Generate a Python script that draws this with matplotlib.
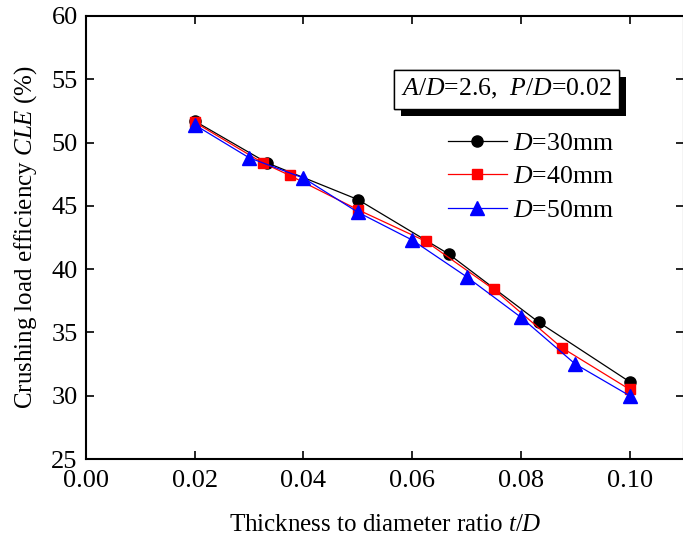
import matplotlib.pyplot as plt
import matplotlib.patheffects as pe

plt.rcParams['font.family'] = ['Liberation Serif', 'DejaVu Serif']
plt.rcParams['mathtext.fontset'] = 'custom'
plt.rcParams['mathtext.rm'] = 'Liberation Serif'
plt.rcParams['mathtext.it'] = 'Liberation Serif:italic'

# data
x30 = [0.02, 0.0333, 0.05, 0.0667, 0.0833, 0.10]
y30 = [51.7, 48.4, 45.5, 41.2, 35.8, 31.1]

x40 = [0.02, 0.0325, 0.0375, 0.05, 0.0625, 0.075, 0.0875, 0.10]
y40 = [51.6, 48.4, 47.4, 44.7, 42.2, 38.4, 33.8, 30.5]

x50 = [0.02, 0.03, 0.04, 0.05, 0.06, 0.07, 0.08, 0.09, 0.10]
y50 = [51.4, 48.8, 47.2, 44.5, 42.3, 39.4, 36.2, 32.5, 30.0]

labels = ['$D$=30mm', '$D$=40mm', '$D$=50mm']
xticks = [0.00, 0.02, 0.04, 0.06, 0.08, 0.10]

fig = plt.figure(figsize=(6.83, 5.42), dpi=100)
ax = fig.add_axes([86 / 683, 1 - 459 / 542, (684 - 86) / 683, 443 / 542])

ax.plot(x30, y30, color='black', lw=0.9, marker='o', ms=8, label=labels[0])
ax.plot(x40, y40, color='red', lw=0.9, marker='s', ms=7, label=labels[1])
ax.plot(x50, y50, color='blue', lw=0.9, marker='^', ms=9.5, label=labels[2])

ax.set_xlim(0, 0.11)
ax.set_ylim(25, 60)
ax.set_xticks(xticks)
ax.set_xticklabels(['%.2f' % v for v in xticks])
ax.set_yticks(range(25, 61, 5))
ax.tick_params(direction='in', labelsize=19, length=6, width=1.2, pad=6,
               top=True, right=True)
ax.tick_params(axis='x', pad=8)
for s in ax.spines.values():
    s.set_linewidth(1.5)

ax.set_xlabel('Thickness to diameter ratio $t/D$', fontsize=18, labelpad=16)
ax.set_ylabel('Crushing load efficiency $CLE$ (%)', fontsize=18, labelpad=9)

txt = ax.text(0.0774, 54.2, '$A/D$=2.6,  $P/D$=0.02', fontsize=18.5,
              ha='center', va='center',
              bbox=dict(boxstyle='square,pad=0.28', fc='white', ec='black', lw=1.0))
txt.get_bbox_patch().set_path_effects(
    [pe.withSimplePatchShadow(offset=(5, -5), shadow_rgbFace='black', alpha=1.0),
     pe.Normal()])

ax.legend(loc='upper left', bbox_to_anchor=(0.605, 0.738), frameon=False,
          fontsize=18.5, handlelength=2.3, labelspacing=0.4, handletextpad=0.25,
          borderpad=0, borderaxespad=0)

fig.savefig('out.png', dpi=100)
